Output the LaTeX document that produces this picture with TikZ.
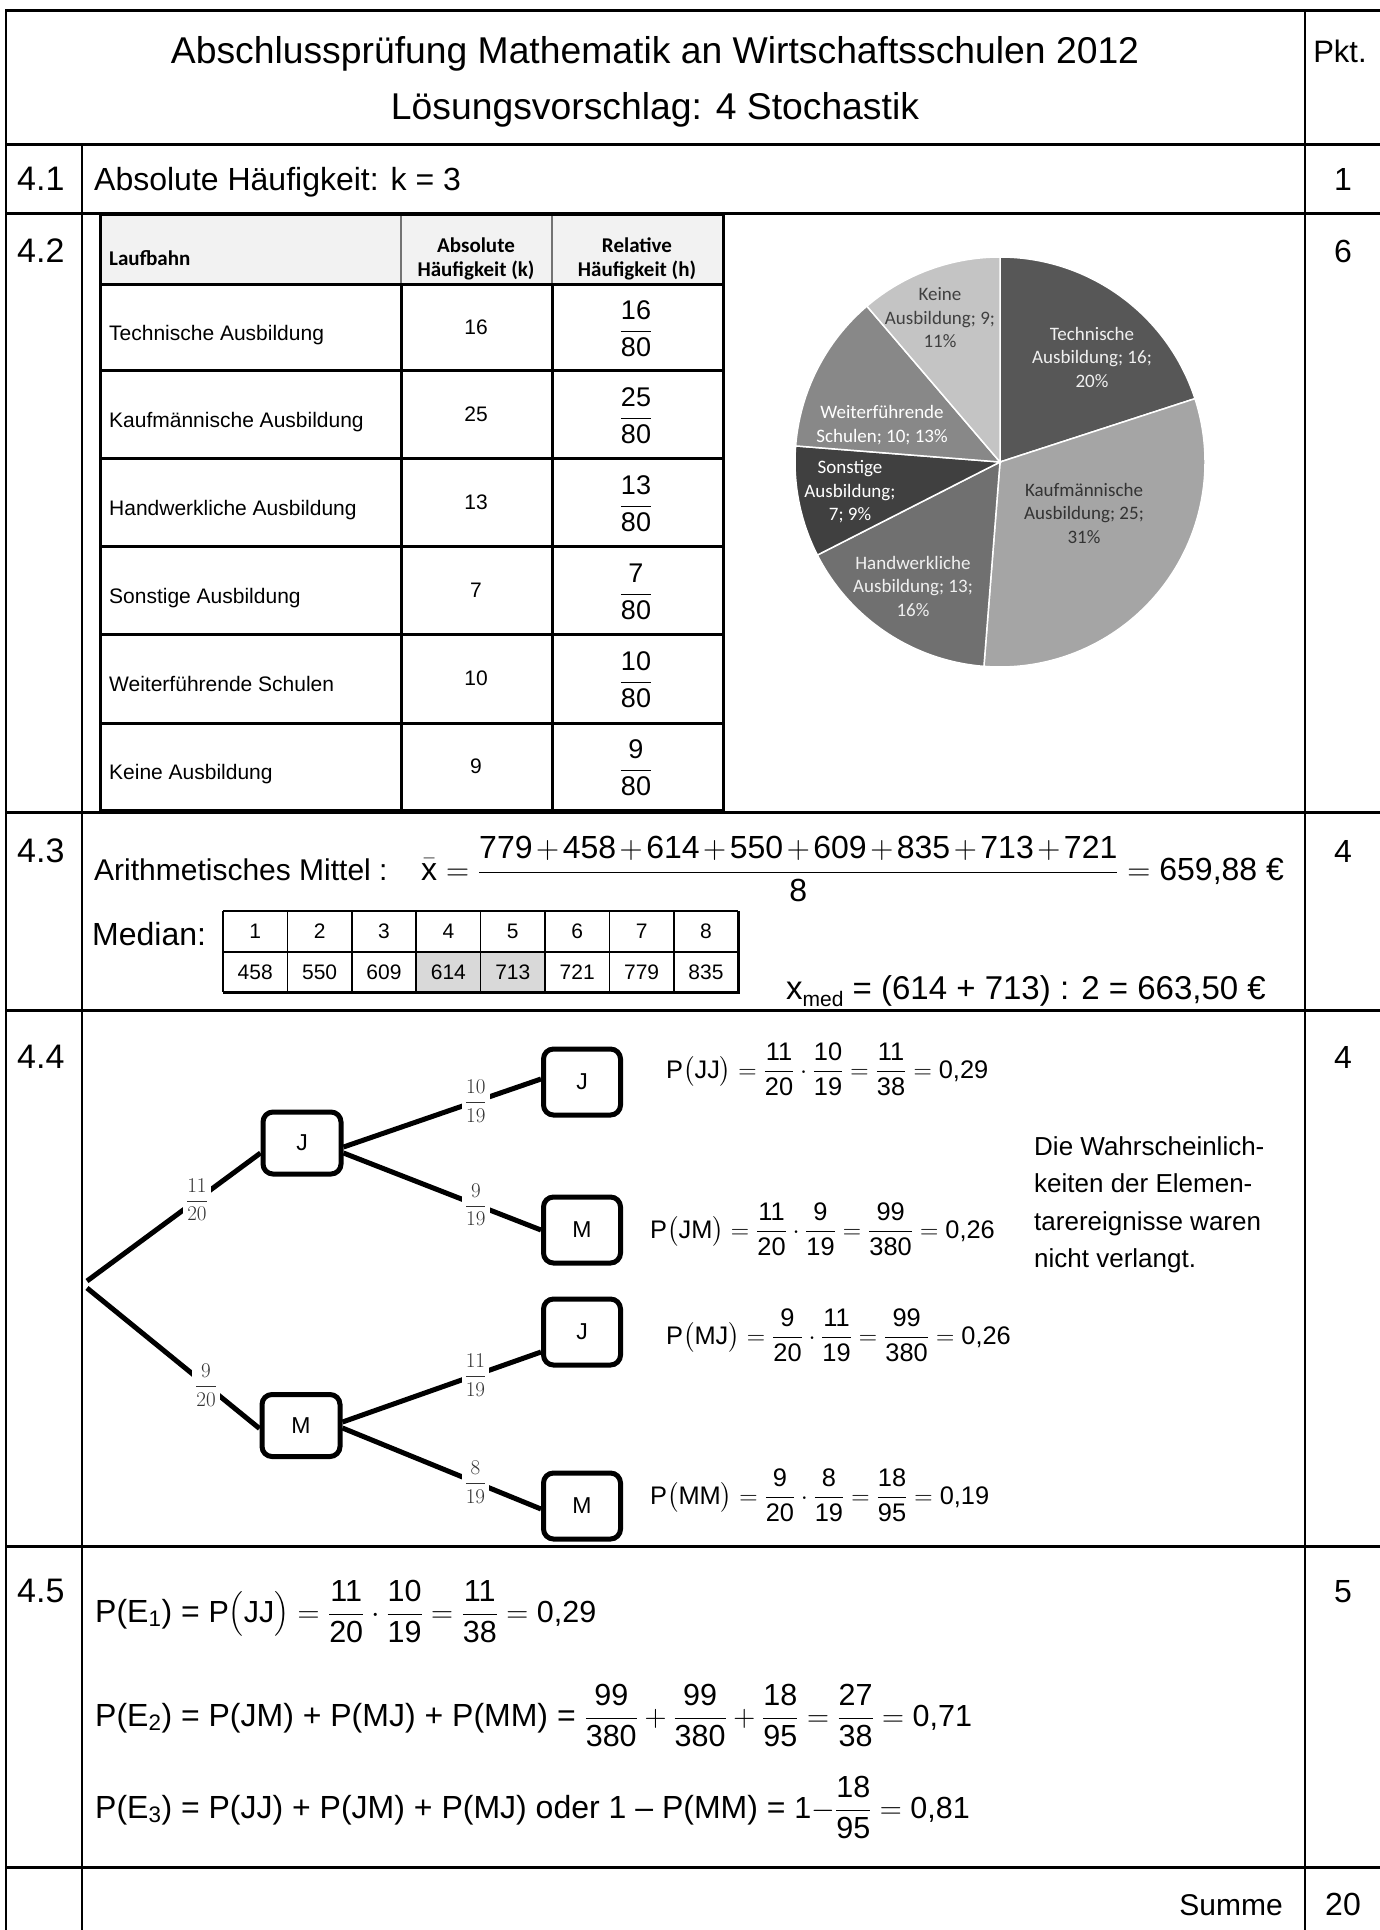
\RequirePackage{fix-cm}
\documentclass[tikz,border=0pt]{standalone}
\usepackage{amsmath}
\usepackage{fontspec}
\setmainfont{Liberation Sans}
\newfontfamily\carl{Carlito}
\newcommand\fsz[2]{\fontsize{#1}{#2}\selectfont}
\newcommand\tx[1]{\mbox{#1}}
\newcommand\pl{\mskip2mu{+}\mskip2mu}
\definecolor{pTech}{HTML}{575757}
\definecolor{pKauf}{HTML}{A5A5A5}
\definecolor{pHand}{HTML}{707070}
\definecolor{pSons}{HTML}{404040}
\definecolor{pWeit}{HTML}{888888}
\definecolor{pKein}{HTML}{C4C4C4}
\tikzset{
  hline/.style={line width=3pt},
  vline/.style={line width=2pt},
  sec/.style={anchor=base west, inner sep=0pt, font=\fsz{34}{40}},
  pts/.style={anchor=base, inner sep=0pt, font=\fsz{32}{38}},
  txt/.style={anchor=base west, inner sep=0pt, font=\fsz{32}{38}},
  cellname/.style={anchor=base west, inner sep=0pt, font=\fsz{21}{25}},
  cellnum/.style={anchor=base, inner sep=0pt, font=\fsz{21}{25}},
  cellfrac/.style={inner sep=0pt, font=\fsz{27}{32}},
  hdr/.style={inner sep=0pt, font=\carl\bfseries\fsz{21}{24}, align=center},
  pielbl/.style={inner sep=0pt, font=\carl\fsz{19}{23.5}, align=center},
  tbox/.style={draw, fill=white, line width=5pt, rounded corners=10pt, minimum width=78pt, minimum height=62pt, inner sep=0pt, font=\fsz{23}{28}},
  tbox2/.style={tbox, minimum width=77pt, minimum height=66pt},
  branch/.style={line width=5pt},
  prob/.style={fill=white, inner sep=3pt, text=black!80, font=\fsz{21}{25}},
  eq/.style={anchor=base west, inner sep=0pt, font=\fsz{25.4}{30}},
  medc/.style={anchor=base, inner sep=0pt, font=\fsz{21}{25}},
}
\begin{document}
\begin{tikzpicture}[x=1pt,y=-1pt]
\useasboundingbox (0,0) rectangle (1380,1930);
\fill[white] (0,0) rectangle (1380,1930);

% ---------- grid of the sheet ----------
\draw[vline] (6,10) -- (6,1930);
\draw[vline] (1305,10) -- (1305,1930);
\draw[vline] (82,144) -- (82,1930);
\foreach \yy in {10,144,213,812,1010,1546,1867}
  \draw[hline] (5,\yy) -- (1380,\yy);

% ---------- header ----------
\node[anchor=base, inner sep=0pt, font=\fsz{37.3}{44}] (t1) at (655,63) {Abschlussprüfung Mathematik an Wirtschaftsschulen 2012};
\node[anchor=base, inner sep=0pt, font=\fsz{37.3}{44}] (t2) at (655,119) {Lösungsvorschlag: 4 Stochastik};
\node[anchor=base, inner sep=0pt, font=\fsz{31}{37}] (pkt) at (1340,62) {Pkt.};

% ---------- 4.1 ----------
\node[sec] (s41) at (17,190) {4.1};
\node[txt] (a41) at (94,190) {Absolute Häufigkeit: k = 3};
\node[pts] (p41) at (1343,190) {1};

% ---------- 4.2 ----------
\node[sec] (s42) at (17,262) {4.2};
\node[pts] (p42) at (1343,262) {6};
\fill[black!5] (100,214) rectangle (723,284);
\draw[black!55, line width=1.5pt] (401,214) -- (401,284) (552,214) -- (552,284);
\foreach \yy in {284,370,458,546,634,723}
  \draw[line width=3pt] (100,\yy) -- (723,\yy);
\draw[line width=3pt] (401,284) -- (401,810) (552,284) -- (552,810);
\draw[line width=3pt] (100,214) rectangle (723,810);
\node[hdr, anchor=west] (hL) at (109,258) {Laufbahn};
\node[hdr] (hA) at (476,259) {Absolute\\Häufigkeit (k)};
\node[hdr] (hR) at (637,259) {Relative\\Häufigkeit (h)};
\foreach \i/\nm/\k/\yc in {1/Technische Ausbildung/16/327,
    2/Kaufmännische Ausbildung/25/414,
    3/Handwerkliche Ausbildung/13/502,
    4/Sonstige Ausbildung/7/590,
    5/Weiterführende Schulen/10/678,
    6/Keine Ausbildung/9/766}{
  \node[cellname] (tn\i) at (109,\yc+13) {\nm};
  \node[cellnum] (tk\i) at (476,\yc+7) {\k};
  \node[cellfrac] (th\i) at (636,\yc+2) {$\dfrac{\tx{\k}}{\tx{80}}$};
}

% pie chart
\coordinate (pc) at (1000,462);
\foreach \a/\b/\c in {-90/-18/pTech, -18/94.5/pKauf, 94.5/153/pHand,
    153/184.5/pSons, 184.5/229.5/pWeit, 229.5/270/pKein}
  \filldraw[fill=\c, draw=white, line width=1.5pt] (pc) -- ++(\a:205)
     arc[start angle=\a, end angle=\b, radius=205] -- cycle;
\node[pielbl, text=black!75] (pl1) at (940,318) {Keine\\Ausbildung; 9;\\11\%};
\node[pielbl, text=black!6] (pl2) at (1092,357) {Technische\\Ausbildung; 16;\\20\%};
\node[pielbl, text=white] (pl3) at (882,425) {Weiterführende\\Schulen; 10; 13\%};
\node[pielbl, text=white] (pl4) at (850,492) {Sonstige\\Ausbildung;\\7; 9\%};
\node[pielbl, text=black!80] (pl5) at (1084,513) {Kaufmännische\\Ausbildung; 25;\\31\%};
\node[pielbl, text=black!6] (pl6) at (913,586) {Handwerkliche\\Ausbildung; 13;\\16\%};

% ---------- 4.3 ----------
\node[sec] (s43) at (17,862) {4.3};
\node[pts] (p43) at (1343,862) {4};
\node[anchor=base west, inner sep=0pt, font=\fsz{30}{36}] (am) at (94,880) {Arithmetisches Mittel :};
\node[anchor=base west, inner sep=0pt, font=\fsz{32}{38}] (amf) at (421,880)
  {$\bar{\tx{x}}=\dfrac{\tx{779}\pl\tx{458}\pl\tx{614}\pl\tx{550}\pl\tx{609}\pl\tx{835}\pl\tx{713}\pl\tx{721}}{\tx{8}}=\tx{659,88 €}$};
\node[anchor=base west, inner sep=0pt, font=\fsz{32}{38}] (mlab) at (92,945) {Median:};
\fill[black!15] (416.2,952) rectangle (545,992);
\foreach \i in {0,...,8}
  \draw[line width=1.5pt] ({223+\i*64.4},911) -- ({223+\i*64.4},992);
\foreach \yy in {911,952}
  \draw[line width=1.5pt] (223,\yy) -- (738,\yy);
\draw[line width=3pt] (223,992) -- (738,992) -- (738,911);
\foreach \i/\v in {1/458,2/550,3/609,4/614,5/713,6/721,7/779,8/835}{
  \node[medc] (mi\i) at ({223+(\i-0.5)*64.4},938.5) {\i};
  \node[medc] (mv\i) at ({223+(\i-0.5)*64.4},979.5) {\v};
}
\node[anchor=base west, inner sep=0pt, font=\fsz{33}{40}] (xmed) at (786,999)
  {x\raisebox{-0.22em}{\fsz{21}{25}med} = (614 + 713) : 2 = 663,50 €};

% ---------- 4.4 ----------
\node[sec] (s44) at (17,1068) {4.4};
\node[pts] (p44) at (1343,1068) {4};
\coordinate (root) at (87,1284.5);
\node[tbox] (J1) at (302,1143) {J};
\node[tbox] (M1) at (301,1425.5) {M};
\node[tbox2] (J2) at (582,1082) {J};
\node[tbox2] (M2) at (582,1230) {M};
\node[tbox2] (J3) at (582,1332) {J};
\node[tbox2] (M3) at (582,1506) {M};
\draw[branch] ([yshift=3.5pt]root) -- node[prob, pos=0.634] (q1) {$\dfrac{11}{20}$} ([yshift=-10pt]J1.west);
\draw[branch] ([yshift=-3.5pt]root) -- node[prob, pos=0.69] (q2) {$\dfrac{9}{20}$} ([yshift=-3pt]M1.west);
\draw[branch] ([yshift=-4pt]J1.east) -- node[prob, pos=0.67] (q3) {$\dfrac{10}{19}$} ([yshift=3pt]J2.west);
\draw[branch] ([yshift=-10pt]J1.east) -- node[prob, pos=0.67] (q4) {$\dfrac{9}{19}$} (M2.west);
\draw[branch] ([yshift=3.5pt]M1.east) -- node[prob, pos=0.67] (q5) {$\dfrac{11}{19}$} ([yshift=-20pt]J3.west);
\draw[branch] ([yshift=-2.5pt]M1.east) -- node[prob, pos=0.67] (q6) {$\dfrac{8}{19}$} ([yshift=-3pt]M3.west);
\node[eq] (pJJ) at (666,1078) {$\tx{P}\bigl(\tx{JJ}\bigr)=\dfrac{\tx{11}}{\tx{20}}\cdot\dfrac{\tx{10}}{\tx{19}}=\dfrac{\tx{11}}{\tx{38}}=\tx{0,29}$};
\node[eq] (pJM) at (650,1238) {$\tx{P}\bigl(\tx{JM}\bigr)=\dfrac{\tx{11}}{\tx{20}}\cdot\dfrac{\tx{9}}{\tx{19}}=\dfrac{\tx{99}}{\tx{380}}=\tx{0,26}$};
\node[eq] (pMJ) at (666,1344) {$\tx{P}\bigl(\tx{MJ}\bigr)=\dfrac{\tx{9}}{\tx{20}}\cdot\dfrac{\tx{11}}{\tx{19}}=\dfrac{\tx{99}}{\tx{380}}=\tx{0,26}$};
\node[eq] (pMM) at (650,1504) {$\tx{P}\bigl(\tx{MM}\bigr)=\dfrac{\tx{9}}{\tx{20}}\cdot\dfrac{\tx{8}}{\tx{19}}=\dfrac{\tx{18}}{\tx{95}}=\tx{0,19}$};
\node[anchor=north west, inner sep=0pt, align=left, font=\fsz{26}{37.5}] (note) at (1034,1136)
  {Die Wahrscheinlich-\\keiten der Elemen-\\tarereignisse waren\\nicht verlangt.};

% ---------- 4.5 ----------
\node[sec] (s45) at (17,1602) {4.5};
\node[pts] (p45) at (1343,1602) {5};
\node[txt] (e1) at (95,1622) {P(E\textsubscript{1}) = {\fsz{30.5}{36}$\tx{P}\bigl(\tx{JJ}\bigr)=\dfrac{\tx{11}}{\tx{20}}\cdot\dfrac{\tx{10}}{\tx{19}}=\dfrac{\tx{11}}{\tx{38}}=\tx{0,29}$}};
\node[txt] (e2) at (95,1726) {P(E\textsubscript{2}) = P(JM) + P(MJ) + P(MM) = {\fsz{30.5}{36}$\dfrac{\tx{99}}{\tx{380}}+\dfrac{\tx{99}}{\tx{380}}+\dfrac{\tx{18}}{\tx{95}}=\dfrac{\tx{27}}{\tx{38}}=\tx{0,71}$}};
\node[txt] (e3) at (95,1818) {P(E\textsubscript{3}) = P(JJ) + P(JM) + P(MJ) oder 1 – P(MM) = {\fsz{30.5}{36}$\tx{1}{-}\dfrac{\tx{18}}{\tx{95}}=\tx{0,81}$}};

% ---------- Summe ----------
\node[anchor=base east, inner sep=0pt, font=\fsz{30}{36}] (sum) at (1283,1915) {Summe};
\node[pts] (p46) at (1343,1915) {20};
\end{tikzpicture}
\end{document}
